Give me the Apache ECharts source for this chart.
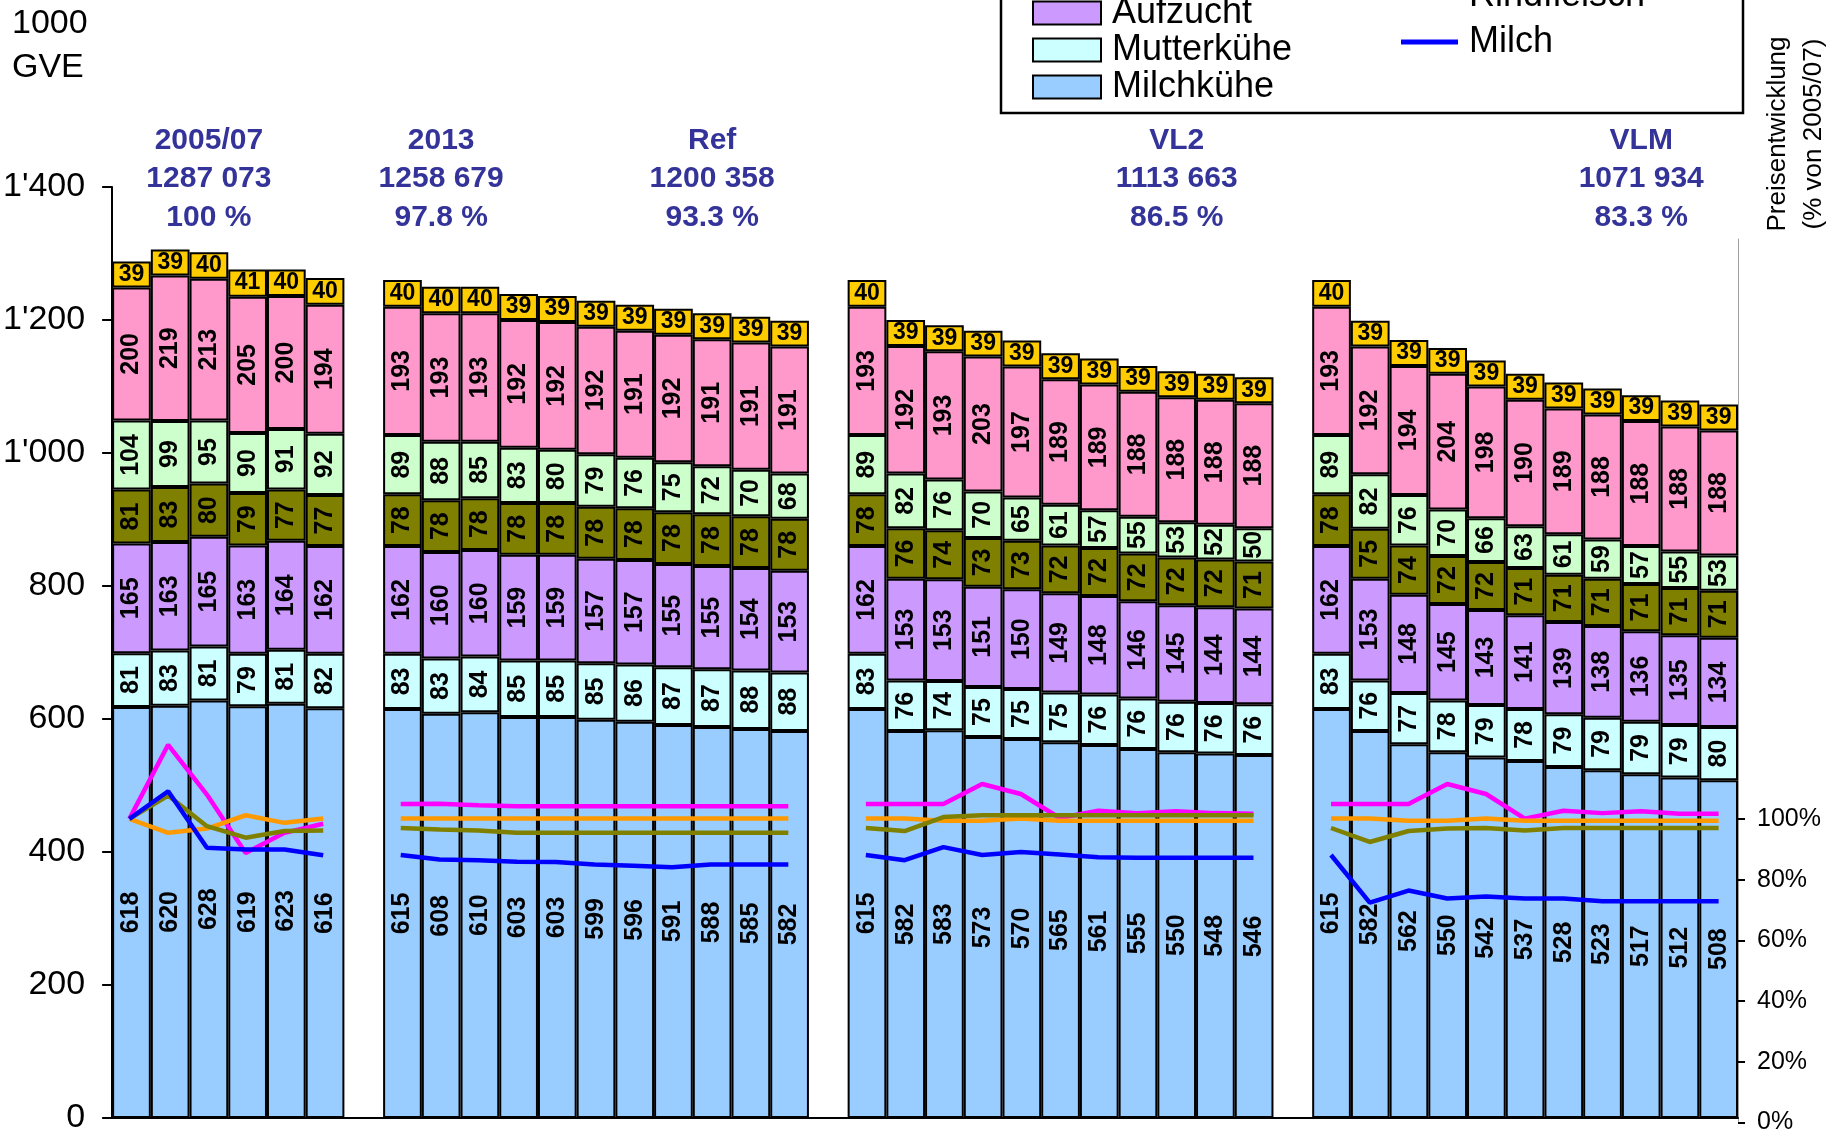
<!DOCTYPE html>
<html>
<head>
<meta charset="utf-8">
<script src="https://cdn.jsdelivr.net/npm/echarts@6/dist/echarts.min.js"></script>
<style>
  html, body { margin: 0; padding: 0; background: #fff; }
  #chart { width: 1829px; height: 1135px; }
</style>
</head>
<body>
<div id="chart"></div>
<script>
// years per block (empty category between blocks)
const years0 = ['200507', '2008', '2009', '2010', '2011', '2012'];
const years1 = ['2013', '2014', '2015', '2016', '2017', '2018', '2019', '2020', '2021', '2022', '2023'];
const groupYears = [years0, years1, years1, years1];

// block headers
const headNames = ['2005/07', '2013', 'Ref', 'VL2', 'VLM'];
const headTotals = ['1287 073', '1258 679', '1200 358', '1113 663', '1071 934'];
const headShares = ['100 %', '97.8 %', '93.3 %', '86.5 %', '83.3 %'];
const headAt = [[0, 2], [1, 1], [1, 8], [2, 8], [3, 8]]; // [block, year index]

// 1000 GVE, bottom to top
const milchkuehe = [
  [618, 620, 628, 619, 623, 616],
  [615, 608, 610, 603, 603, 599, 596, 591, 588, 585, 582],
  [615, 582, 583, 573, 570, 565, 561, 555, 550, 548, 546],
  [615, 582, 562, 550, 542, 537, 528, 523, 517, 512, 508]
];
const mutterkuehe = [
  [81, 83, 81, 79, 81, 82],
  [83, 83, 84, 85, 85, 85, 86, 87, 87, 88, 88],
  [83, 76, 74, 75, 75, 75, 76, 76, 76, 76, 76],
  [83, 76, 77, 78, 79, 78, 79, 79, 79, 79, 80]
];
const aufzucht = [
  [165, 163, 165, 163, 164, 162],
  [162, 160, 160, 159, 159, 157, 157, 155, 155, 154, 153],
  [162, 153, 153, 151, 150, 149, 148, 146, 145, 144, 144],
  [162, 153, 148, 145, 143, 141, 139, 138, 136, 135, 134]
];
const rindviehmast = [
  [81, 83, 80, 79, 77, 77],
  [78, 78, 78, 78, 78, 78, 78, 78, 78, 78, 78],
  [78, 76, 74, 73, 73, 72, 72, 72, 72, 72, 71],
  [78, 75, 74, 72, 72, 71, 71, 71, 71, 71, 71]
];
const andereRfv = [
  [104, 99, 95, 90, 91, 92],
  [89, 88, 85, 83, 80, 79, 76, 75, 72, 70, 68],
  [89, 82, 76, 70, 65, 61, 57, 55, 53, 52, 50],
  [89, 82, 76, 70, 66, 63, 61, 59, 57, 55, 53]
];
const schweine = [
  [200, 219, 213, 205, 200, 194],
  [193, 193, 193, 192, 192, 192, 191, 192, 191, 191, 191],
  [193, 192, 193, 203, 197, 189, 189, 188, 188, 188, 188],
  [193, 192, 194, 204, 198, 190, 189, 188, 188, 188, 188]
];
const gefluegel = [
  [39, 39, 40, 41, 40, 40],
  [40, 40, 40, 39, 39, 39, 39, 39, 39, 39, 39],
  [40, 39, 39, 39, 39, 39, 39, 39, 39, 39, 39],
  [40, 39, 39, 39, 39, 39, 39, 39, 39, 39, 39]
];

// price development, % of 2005/07
const preisSchwein = [
  [100, 124.4, 108, 88.8, 95.4, 98.4],
  [104.9, 105, 104.5, 104.2, 104.2, 104.2, 104.2, 104.2, 104.2, 104.2, 104.2],
  [104.9, 104.9, 104.9, 111.5, 108.2, 100.3, 102.7, 101.9, 102.5, 101.9, 101.7],
  [104.9, 104.9, 104.9, 111.5, 108.2, 100.1, 102.7, 101.9, 102.5, 101.7, 101.7]
];
const preisGefluegel = [
  [100, 95.4, 96.8, 101.2, 98.7, 100.1],
  [100.1, 100.1, 100.1, 100.1, 100.1, 100.1, 100.1, 100.1, 100.1, 100.1, 100.1],
  [100.1, 100.1, 99.4, 99.4, 100.1, 99.4, 99.4, 99.4, 99.4, 99.4, 99.4],
  [100.1, 100.1, 99.4, 99.4, 100.1, 99.4, 99.4, 99.4, 99.4, 99.4, 99.4]
];
const preisRind = [
  [100, 107.7, 97.6, 93.8, 96, 96.2],
  [97, 96.5, 96.2, 95.4, 95.4, 95.4, 95.4, 95.4, 95.4, 95.4, 95.4],
  [97, 96, 100.6, 101.2, 101.2, 101.2, 101.2, 101.2, 101.2, 101.2, 101.2],
  [97, 92.4, 96, 96.8, 97, 96.2, 97, 97, 97, 97, 97]
];
const preisMilch = [
  [100, 109.1, 90.5, 89.9, 89.9, 88],
  [88.1, 86.6, 86.4, 85.9, 85.8, 85, 84.6, 84.1, 85, 85, 85],
  [88.1, 86.4, 90.7, 88.1, 89.1, 88.3, 87.4, 87.2, 87.2, 87.2, 87.2],
  [88.1, 72.4, 76.4, 73.8, 74.4, 73.8, 73.8, 72.9, 72.9, 72.9, 72.9]
];

// flatten blocks, one empty category between them
function join(blocks, fill) {
  const out = [];
  blocks.forEach((b, i) => {
    if (i > 0) out.push(fill);
    out.push(...b);
  });
  return out;
}
const categories = join(groupYears.map((ys, g) => ys.map(y => g + '|' + y)), null)
  .map((c, i) => c === null ? 'gap' + i + '|' : c);
const catKey = (g, k) => g + '|' + groupYears[g][k];

const FONT = "'Liberation Sans', Arial, sans-serif";

function barSeries(name, blocks, color, horiz) {
  return {
    name: name,
    type: 'bar',
    stack: 'gve',
    xAxisIndex: 0,
    yAxisIndex: 0,
    barCategoryGap: '0%',
    itemStyle: { color: color, borderColor: '#000', borderWidth: 2 },
    label: {
      show: true,
      position: 'inside',
      rotate: horiz ? 0 : 90,
      color: '#000',
      fontWeight: 'bold',
      fontFamily: FONT,
      fontSize: horiz ? 23 : 25
    },
    data: join(blocks, null)
  };
}

function lineSeries(name, blocks, color) {
  return {
    name: name,
    type: 'line',
    xAxisIndex: 1,
    yAxisIndex: 1,
    symbol: 'none',
    connectNulls: false,
    z: 5,
    itemStyle: { color: color },
    lineStyle: { color: color, width: 4.5 },
    data: join(blocks, null)
  };
}

const chart = echarts.init(document.getElementById('chart'));

const option = {
  animation: false,
  backgroundColor: '#fff',
  textStyle: { fontFamily: FONT },
  grid: [
    { left: 110, right: 91, top: 187, bottom: 10 },
    { left: 110, right: 91, top: 239, bottom: 10 }
  ],
  legend: [
    {
      data: ['Aufzucht', 'Mutterkühe', 'Milchkühe'],
      orient: 'vertical',
      left: 1032,
      top: -5,
      padding: 0,
      itemWidth: 68,
      itemHeight: 23,
      itemGap: 1,
      icon: 'rect',
      selectedMode: false,
      textStyle: { fontSize: 36, color: '#000', padding: [0, 0, 0, 6] }
    },
    {
      data: [
        { name: 'Rindfleisch', icon: 'rect' },
        { name: 'Milch', icon: 'rect' }
      ],
      orient: 'vertical',
      left: 1401,
      top: -22,
      padding: 0,
      itemWidth: 57,
      itemHeight: 5,
      itemGap: 10,
      selectedMode: false,
      textStyle: { fontSize: 36, color: '#000', padding: [0, 0, 0, 6] }
    }
  ],
  xAxis: [
    {
      type: 'category',
      gridIndex: 0,
      data: categories,
      axisLine: { lineStyle: { color: '#000', width: 2 } },
      axisTick: { show: false },
      axisLabel: {
        inside: true,
        rotate: 90,
        align: 'left',
        verticalAlign: 'middle',
        margin: 12,
        interval: 0,
        fontSize: 26,
        color: '#000',
        formatter: v => v.split('|')[1]
      }
    },
    { type: 'category', gridIndex: 1, data: categories, show: false }
  ],
  yAxis: [
    {
      type: 'value',
      gridIndex: 0,
      min: 0,
      max: 1400,
      interval: 200,
      splitLine: { show: false },
      axisLine: { show: true, lineStyle: { color: '#000', width: 2 } },
      axisTick: { show: true, length: 10, lineStyle: { color: '#000', width: 2 } },
      axisLabel: {
        fontSize: 34,
        color: '#000',
        margin: 27,
        formatter: v => v >= 1000 ? Math.floor(v / 1000) + "'" + String(v % 1000).padStart(3, '0') : String(v)
      }
    },
    {
      type: 'value',
      gridIndex: 1,
      position: 'right',
      min: 0,
      max: 291,
      splitLine: { show: false },
      axisLine: { show: true, lineStyle: { color: '#a0a0a0', width: 1 } },
      axisTick: {
        show: true,
        length: 7,
        customValues: [0, 20, 40, 60, 80, 100],
        lineStyle: { color: '#000', width: 2 }
      },
      axisLabel: {
        fontSize: 25,
        color: '#000',
        margin: 19,
        customValues: [0, 20, 40, 60, 80, 100],
        formatter: '{value}%'
      }
    }
  ],
  series: [
    barSeries('Milchkühe', milchkuehe, '#99ccff'),
    barSeries('Mutterkühe', mutterkuehe, '#ccffff'),
    barSeries('Aufzucht', aufzucht, '#cc99ff'),
    barSeries('Rindviehmast', rindviehmast, '#808000'),
    barSeries('Andere Raufutterverzehrer', andereRfv, '#ccffcc'),
    barSeries('Schweine', schweine, '#ff99cc'),
    barSeries('Geflügel', gefluegel, '#ffcc00', true),
    lineSeries('Schweinefleisch', preisSchwein, '#ff00ff'),
    lineSeries('Geflügelfleisch', preisGefluegel, '#ff9900'),
    lineSeries('Rindfleisch', preisRind, '#808000'),
    lineSeries('Milch', preisMilch, '#0000ff')
  ]
};

chart.setOption(option);

// headers above the blocks, axis titles, legend frame
const graphics = [
  {
    type: 'rect',
    shape: { x: 1001, y: -20, width: 742, height: 133 },
    style: { fill: 'none', stroke: '#000', lineWidth: 2.5 },
    z: 10
  },
  {
    type: 'text',
    left: 12,
    top: 2,
    style: { text: '1000\nGVE', font: '34px ' + FONT, lineHeight: 44, fill: '#000' }
  },
  {
    type: 'text',
    x: 1796,
    y: 134,
    rotation: Math.PI / 2,
    style: {
      text: 'Preisentwicklung\n(% von 2005/07)',
      font: '26px ' + FONT,
      lineHeight: 36,
      fill: '#000',
      align: 'center',
      verticalAlign: 'middle'
    }
  }
];
headAt.forEach((pos, i) => {
  const px = chart.convertToPixel({ xAxisIndex: 0 }, catKey(pos[0], pos[1]));
  graphics.push({
    type: 'text',
    x: px,
    y: 179,
    style: {
      text: headNames[i] + '\n' + headTotals[i] + '\n' + headShares[i],
      font: 'bold 30px ' + FONT,
      lineHeight: 38.5,
      fill: '#333399',
      align: 'center',
      verticalAlign: 'middle'
    }
  });
});
chart.setOption({ graphic: graphics });
</script>
</body>
</html>
